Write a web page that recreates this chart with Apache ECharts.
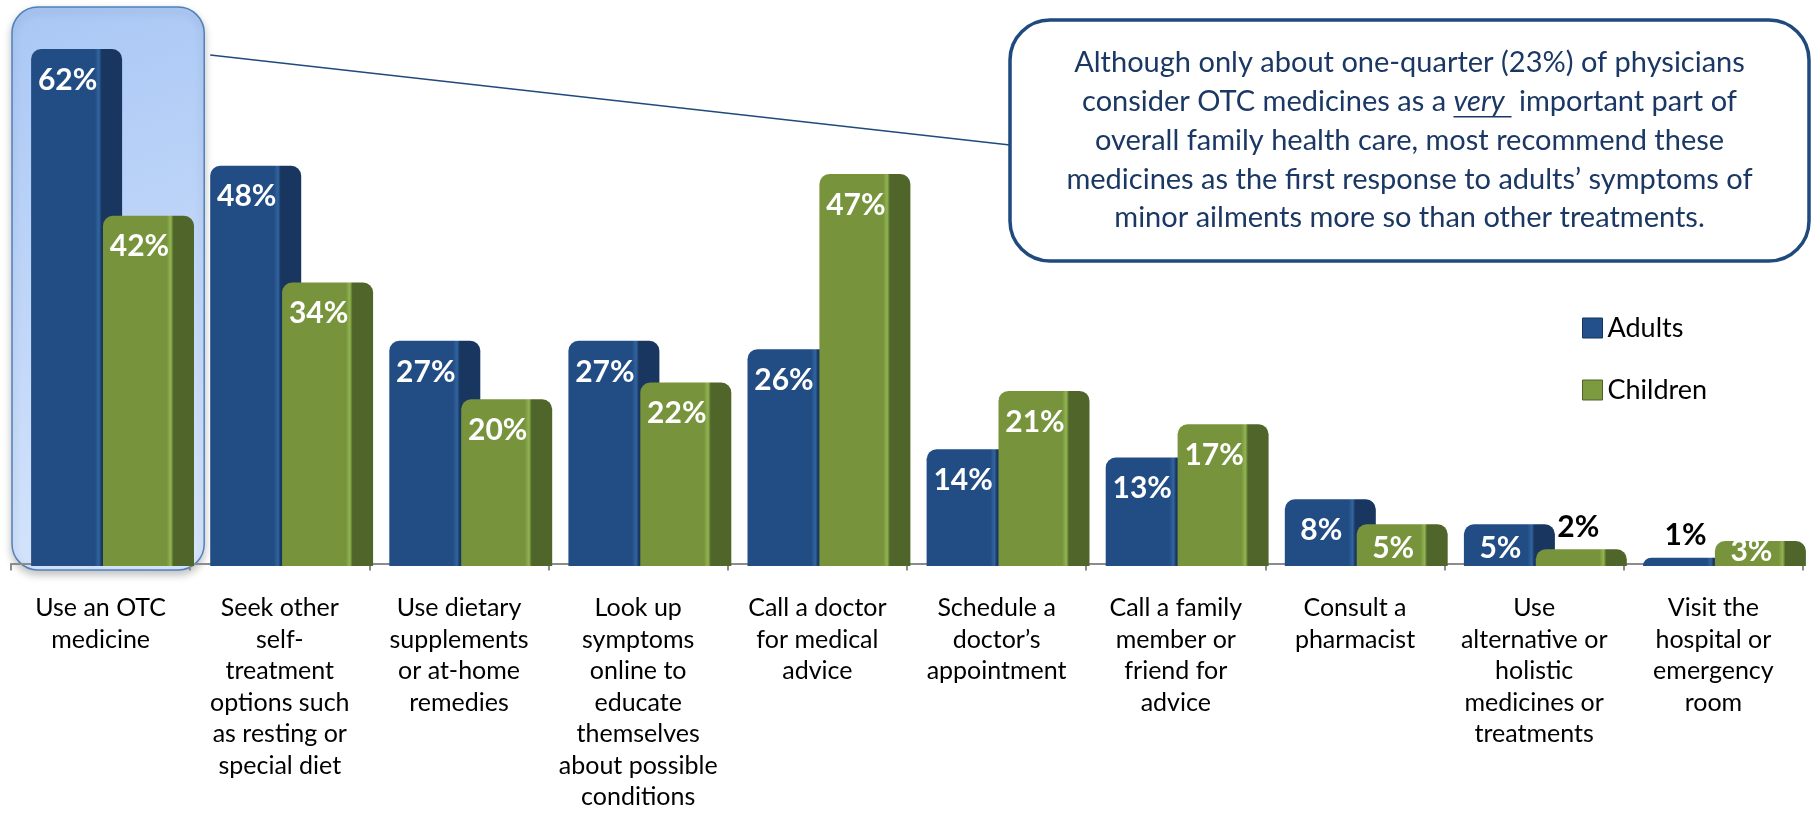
<!DOCTYPE html>
<html>
<head>
<meta charset="utf-8">
<script src="https://cdn.jsdelivr.net/npm/echarts@6/dist/echarts.min.js"></script>
<style>
  html, body { margin: 0; padding: 0; background: #fff; }
  #chart { width: 1814px; height: 813px; }
</style>
</head>
<body>
<div id="chart"></div>
<script>
var categories = [
    "Use an OTC\nmedicine",
    "Seek other\nself-\ntreatment\noptions such\nas resting or\nspecial diet",
    "Use dietary\nsupplements\nor at-home\nremedies",
    "Look up\nsymptoms\nonline to\neducate\nthemselves\nabout possible\nconditions",
    "Call a doctor\nfor medical\nadvice",
    "Schedule a\ndoctor\u2019s\nappointment",
    "Call a family\nmember or\nfriend for\nadvice",
    "Consult a\npharmacist",
    "Use\nalternative or\nholistic\nmedicines or\ntreatments",
    "Visit the\nhospital or\nemergency\nroom"
];
var adults = [62, 48, 27, 27, 26, 14, 13, 8, 5, 1];
var children = [42, 34, 20, 22, 47, 21, 17, 5, 2, 3];
var seriesNames = ["Adults", "Children"];
var calloutLines = [
    "Although only about one-quarter (23%) of physicians",
    ["consider OTC medicines as a ", "very ", " important part of"],
    "overall family health care, most recommend these",
    "medicines as the first response to adults\u2019 symptoms of",
    "minor ailments more so than other treatments."
];

var FONT = "Lato, 'Open Sans', sans-serif";
var CALLOUT_FONT = "29px Lato";
var chart = echarts.init(document.getElementById("chart"));

function barGrad(c1, hi, side) {
    return new echarts.graphic.LinearGradient(0, 0, 1, 0, [
        { offset: 0, color: c1 },
        { offset: 0.70, color: c1 },
        { offset: 0.745, color: hi },
        { offset: 0.775, color: side },
        { offset: 1, color: side }
    ]);
}

// tiny values: black label above the bar; short bars: label sits on the bottom
function barData(values) {
    return values.map(function (v) {
        if (v <= 2) {
            return { value: v, label: { position: "top", distance: 7, color: "#000", offset: [-3, 0] } };
        }
        if (v < 6) {
            return { value: v, label: { position: "insideBottom", distance: v < 4 ? 0 : 3 } };
        }
        return v;
    });
}

var labelStyle = {
    show: true,
    position: "insideTop",
    distance: 16,
    offset: [-9, 0],
    color: "#fff",
    fontFamily: FONT,
    fontWeight: "bold",
    fontSize: 30,
    formatter: "{c}%"
};

var option = {
    animation: false,
    legend: {
        orient: "vertical",
        left: 1577,
        top: 308,
        itemWidth: 20,
        itemHeight: 20,
        itemGap: 32,
        icon: "rect",
        textStyle: { fontFamily: FONT, fontSize: 27, color: "#000", lineHeight: 30 },
        data: [
            { name: seriesNames[0], itemStyle: { color: "#23508A", borderColor: "#173560", borderWidth: 1 } },
            { name: seriesNames[1], itemStyle: { color: "#7C9A40", borderColor: "#4E6228", borderWidth: 1 } }
        ]
    },
    grid: [
        { left: 11, width: 1792, top: 49, bottom: 247 },
        { left: 23, width: 1792, top: 49, bottom: 247 }
    ],
    xAxis: [
        {
            type: "category",
            gridIndex: 0,
            data: categories,
            axisLine: { lineStyle: { color: "#8C8C8C", width: 2 } },
            axisTick: { show: true, length: 7, lineStyle: { color: "#8C8C8C", width: 2 } },
            axisLabel: {
                interval: 0,
                margin: 29,
                fontFamily: FONT,
                fontSize: 25,
                lineHeight: 31.5,
                color: "#000",
                align: "center"
            }
        },
        { type: "category", gridIndex: 1, data: categories, show: false }
    ],
    yAxis: [
        { type: "value", gridIndex: 0, min: 0, max: 62, show: false, splitLine: { show: false } },
        { type: "value", gridIndex: 1, min: 0, max: 62, show: false, splitLine: { show: false } }
    ],
    series: [
        {
            name: seriesNames[0],
            type: "bar",
            xAxisIndex: 1,
            yAxisIndex: 1,
            barWidth: 91,
            barGap: "-21%",
            data: barData(adults),
            itemStyle: {
                color: barGrad("#224D84", "#3264A0", "#18365F"),
                borderRadius: [10, 10, 0, 0]
            },
            label: labelStyle
        },
        {
            name: seriesNames[1],
            type: "bar",
            xAxisIndex: 1,
            yAxisIndex: 1,
            barWidth: 91,
            barGap: "-21%",
            data: barData(children),
            itemStyle: {
                color: barGrad("#77943C", "#92B451", "#506529"),
                borderRadius: [10, 10, 0, 0]
            },
            label: labelStyle
        }
    ]
};
chart.setOption(option);

// highlight box around the first category, callout box and connector
var c0 = chart.convertToPixel({ xAxisIndex: 0 }, 0);
var band = 1792 / categories.length;
var hx0 = c0 - band / 2 + 1, hx1 = c0 + band / 2 + 14;
var box = { x: 1010, y: 20, w: 799, h: 241 };
var cx = box.x + box.w / 2;

var ctx = document.createElement("canvas").getContext("2d");
function measure(t, italic) {
    ctx.font = (italic ? "italic " : "") + CALLOUT_FONT;
    return ctx.measureText(t).width;
}

var graphics = [
    {
        type: "rect", z: -1,
        shape: { x: hx0, y: 7, width: hx1 - hx0, height: 563, r: 26 },
        style: {
            fill: new echarts.graphic.LinearGradient(0, 0, 1, 1, [
                { offset: 0, color: "#A9C7F5" },
                { offset: 1, color: "#D8E6FC" }
            ]),
            stroke: "#4F81BD",
            lineWidth: 1.5,
            shadowBlur: 8,
            shadowOffsetY: 4,
            shadowColor: "rgba(0,0,0,0.25)"
        }
    },
    {
        type: "line", z: 10,
        shape: { x1: hx1 + 6, y1: 55, x2: box.x, y2: 145 },
        style: { stroke: "#1F4A7E", lineWidth: 1.6 }
    },
    {
        type: "rect", z: 10,
        shape: { x: box.x, y: box.y, width: box.w, height: box.h, r: 40 },
        style: { fill: "#fff", stroke: "#1F4A7E", lineWidth: 3.5 }
    }
];

var lineH = 38.7;
var firstY = box.y + box.h / 2 - lineH * 2;
calloutLines.forEach(function (ln, i) {
    var y = firstY + i * lineH;
    if (typeof ln === "string") {
        graphics.push({
            type: "text", z: 11,
            style: { text: ln, x: cx, y: y, align: "center", verticalAlign: "middle",
                     font: CALLOUT_FONT, fill: "#1B3864" }
        });
    } else {
        var w0 = measure(ln[0]), w1 = measure(ln[1], true), w2 = measure(ln[2]);
        var sx = cx - (w0 + w1 + w2) / 2;
        graphics.push(
            { type: "text", z: 11, style: { text: ln[0], x: sx, y: y, align: "left", verticalAlign: "middle", font: CALLOUT_FONT, fill: "#1B3864" } },
            { type: "text", z: 11, style: { text: ln[1], x: sx + w0, y: y, align: "left", verticalAlign: "middle", font: "italic " + CALLOUT_FONT, fill: "#1B3864" } },
            { type: "text", z: 11, style: { text: ln[2], x: sx + w0 + w1, y: y, align: "left", verticalAlign: "middle", font: CALLOUT_FONT, fill: "#1B3864" } },
            { type: "line", z: 11, shape: { x1: sx + w0, y1: y + 15, x2: sx + w0 + w1, y2: y + 15 }, style: { stroke: "#1B3864", lineWidth: 1.6 } }
        );
    }
});

chart.setOption({ graphic: graphics });
</script>
</body>
</html>
